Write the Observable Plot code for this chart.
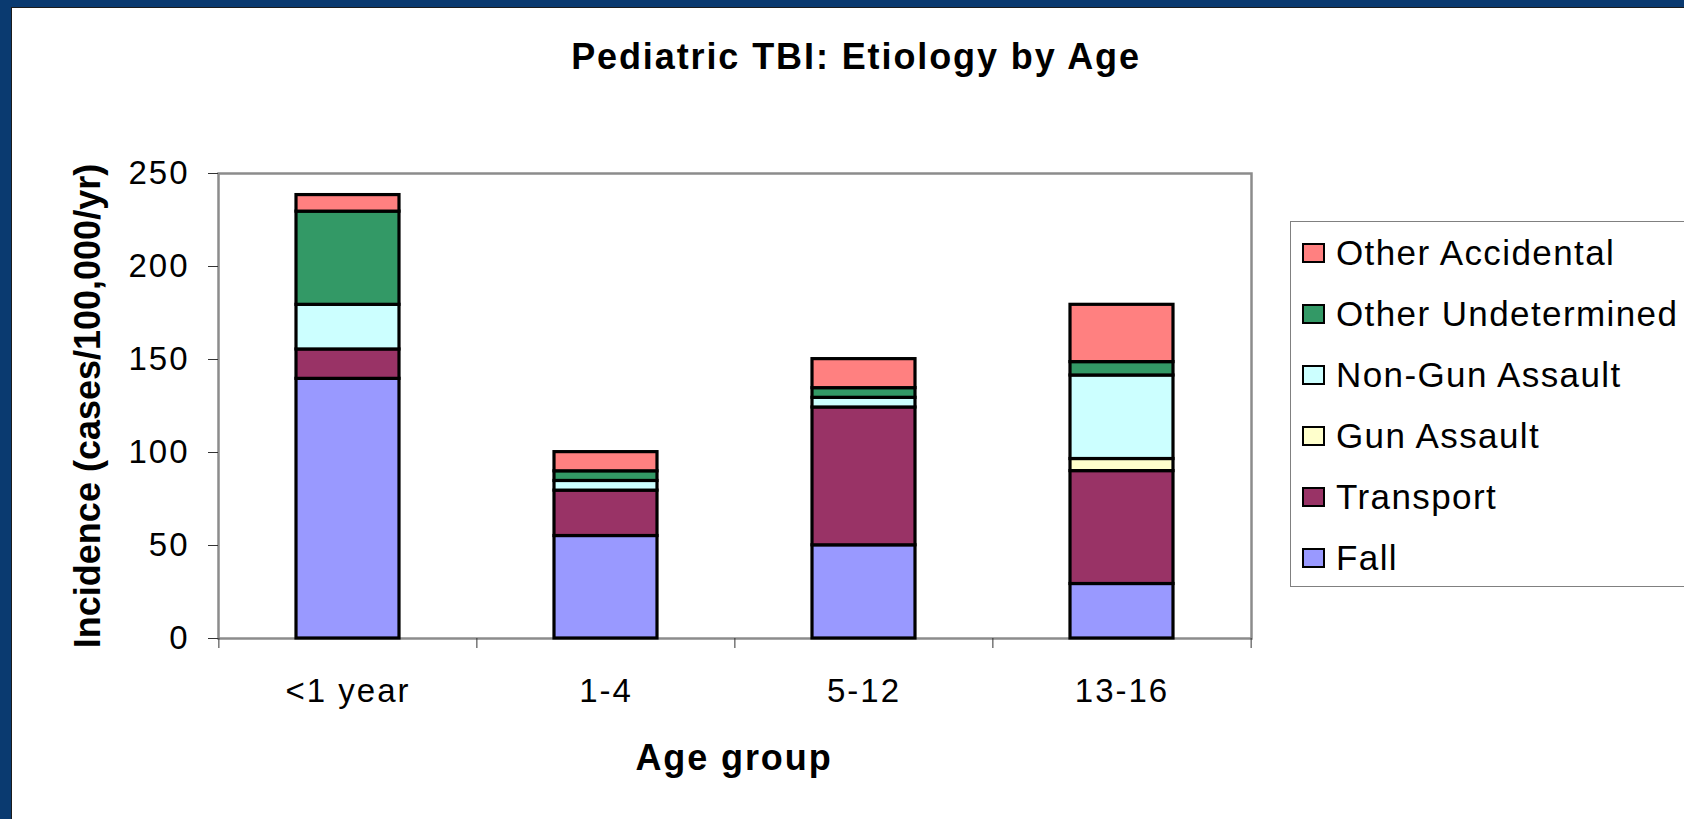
<!DOCTYPE html>
<html>
<head>
<meta charset="utf-8">
<script src="https://cdn.jsdelivr.net/npm/d3@7"></script>
<script src="https://cdn.jsdelivr.net/npm/@observablehq/plot@0.6"></script>
<style>
  html, body { margin: 0; padding: 0; width: 1684px; height: 819px; overflow: hidden; background: #0a3a70; font-family: "Liberation Sans", Arial, sans-serif; }
  #panel { position: absolute; left: 11px; top: 7px; width: 1673px; height: 812px; background: #fff; box-shadow: inset 1px 1px 0 #1c1c1c; }
  #chart { position: absolute; left: 11px; top: 7px; }
  .title { position: absolute; text-align: center; font-weight: bold; font-size: 36px; line-height: 36px; letter-spacing: 1.9px; color: #000; white-space: nowrap; }
  #legend { position: absolute; left: 1290px; top: 221px; width: 520px; height: 366px; border: 1.5px solid #808080; box-sizing: border-box; background: #fff; }
  .row { position: absolute; left: 0; height: 61px; display: flex; align-items: center; font-size: 35px; letter-spacing: 1.4px; white-space: nowrap; color: #000; }
  .sw { width: 19px; height: 16px; border: 2.5px solid #000; margin-left: 11px; margin-right: 11px; flex: none; }
  svg [aria-label="y-axis tick label"] text, svg [aria-label="x-axis tick label"] text { letter-spacing: 2px; }
</style>
</head>
<body>
<div id="panel"></div>
<div id="chart"></div>
<div id="title" class="title" style="left:356px; top:39px; width:1000px;"></div>
<div id="xtitle" class="title" style="left:234px; top:740px; width:1000px;"></div>
<div id="legend"></div>
<script>
const ages = ["<1 year", "1-4", "5-12", "13-16"];
const series = ["Fall", "Transport", "Gun Assault", "Non-Gun Assault", "Other Undetermined", "Other Accidental"];
const fall = [139.6, 55.1, 50.1, 29.3];
const transport = [15.8, 24.4, 74.1, 60.7];
const gunAssault = [0, 0, 0, 6.5];
const nonGunAssault = [24.0, 5.2, 5.2, 44.9];
const otherUndetermined = [50.1, 5.2, 5.2, 7.2];
const otherAccidental = [8.9, 10.3, 15.6, 30.8];
const colors = ["#9999FF", "#993366", "#FFFFCC", "#CCFFFF", "#339966", "#FF8080"];
const yTicks = [0, 50, 100, 150, 200, 250];
const titleText = "Pediatric TBI: Etiology by Age";
const xTitleText = "Age group";
const yTitleText = "Incidence (cases/100,000/yr)";

const valuesBySeries = [fall, transport, gunAssault, nonGunAssault, otherUndetermined, otherAccidental];
const data = series.flatMap((s, i) => ages.map((a, j) => ({age: a, series: s, value: valuesBySeries[i][j]})))
  .filter(d => d.value > 0);

const width = 1673, height = 812, mL = 207, mR = 433, mT = 166, mB = 181;
const step = (width - mL - mR) / ages.length;

const chart = Plot.plot({
  width, height,
  marginLeft: mL, marginRight: mR, marginTop: mT, marginBottom: mB,
  style: {fontFamily: '"Liberation Sans", Arial, sans-serif', fontSize: "33px", background: "transparent", color: "#000", overflow: "visible"},
  x: {domain: ages, paddingInner: 0.6, paddingOuter: 0.3, align: 0.5},
  y: {domain: [0, 250]},
  color: {domain: series, range: colors},
  marks: [
    Plot.frame({stroke: "#8c8c8c", strokeWidth: 2.5}),
    Plot.barY(data, {x: "age", y: "value", fill: "series", stroke: "#000", strokeWidth: 3.2}),
    Plot.axisY({ticks: yTicks, tickSize: 10, tickPadding: 19, stroke: "#333", fontSize: 33, label: null}),
    Plot.axisX({tickSize: 10, dx: -step / 2, fill: "none", stroke: "#333", label: null}),
    Plot.axisX({ticks: [ages[ages.length - 1]], tickSize: 10, dx: step / 2, fill: "none", stroke: "#333", label: null}),
    Plot.axisX({tickSize: 0, tickPadding: 40, fontSize: 33, label: null}),
    Plot.text([yTitleText], {frameAnchor: "left", textAnchor: "middle", dx: -130, rotate: -90, fontSize: 36, fontWeight: "bold", text: d => d})
  ]
});
document.getElementById("chart").appendChild(chart);
document.getElementById("title").textContent = titleText;
document.getElementById("xtitle").textContent = xTitleText;

const legend = document.getElementById("legend");
series.slice().reverse().forEach((s, i) => {
  const row = document.createElement("div");
  row.className = "row";
  row.style.top = (32.5 + i * 61 - 30.5 - 1.5) + "px";
  const sw = document.createElement("div");
  sw.className = "sw";
  sw.style.background = colors[series.indexOf(s)];
  const label = document.createElement("span");
  label.textContent = s;
  row.appendChild(sw);
  row.appendChild(label);
  legend.appendChild(row);
});
</script>
</body>
</html>
